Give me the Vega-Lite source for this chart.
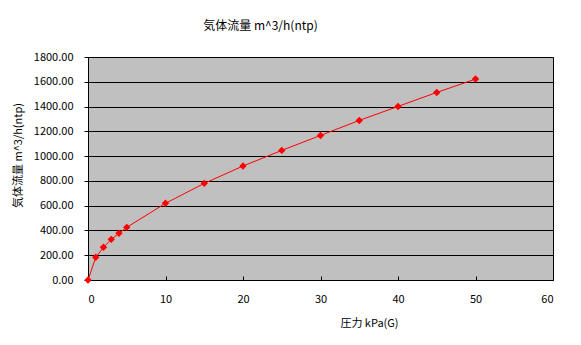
{
  "$schema": "https://vega.github.io/schema/vega-lite/v6.json",
  "width": 465,
  "height": 223,
  "autosize": {"type": "none"},
  "padding": {"left": 88, "top": 57, "right": 28, "bottom": 65},
  "background": "white",
  "title": {
    "text": "気体流量 m^3/h(ntp)",
    "font": "Noto Sans CJK JP",
    "fontSize": 12,
    "fontWeight": "normal",
    "color": "black",
    "anchor": "middle",
    "dx": -60,
    "offset": 18
  },
  "data": {
    "values": [
      {"p": 0, "q": 0},
      {"p": 1, "q": 183},
      {"p": 2, "q": 264},
      {"p": 3, "q": 328},
      {"p": 4, "q": 377},
      {"p": 5, "q": 425},
      {"p": 10, "q": 619},
      {"p": 15, "q": 780},
      {"p": 20, "q": 920},
      {"p": 25, "q": 1046},
      {"p": 30, "q": 1167},
      {"p": 35, "q": 1288},
      {"p": 40, "q": 1401},
      {"p": 45, "q": 1514},
      {"p": 50, "q": 1622}
    ]
  },
  "encoding": {
    "x": {
      "field": "p",
      "type": "quantitative",
      "scale": {"domain": [0, 60], "nice": false},
      "axis": {
        "title": "圧力 kPa(G)",
        "titleX": 281,
        "titleY": 37,
        "titleAlign": "center",
        "values": [0, 10, 20, 30, 40, 50, 60],
        "grid": false,
        "tickSize": -4,
        "labelPadding": 17,
        "domainColor": "black",
        "tickColor": "black"
      }
    },
    "y": {
      "field": "q",
      "type": "quantitative",
      "scale": {"domain": [0, 1800], "nice": false},
      "axis": {
        "title": "気体流量 m^3/h(ntp)",
        "titleX": -65,
        "titleY": 98,
        "titleAlign": "center",
        "titleAngle": -90,
        "values": [0, 200, 400, 600, 800, 1000, 1200, 1400, 1600, 1800],
        "format": ".2f",
        "grid": true,
        "gridColor": "black",
        "gridOpacity": 1,
        "tickSize": 4,
        "labelPadding": 11,
        "domainColor": "black",
        "tickColor": "black"
      }
    }
  },
  "layer": [
    {"mark": {"type": "line", "color": "#FF0000", "strokeWidth": 1}},
    {"mark": {"type": "point", "shape": "diamond", "filled": true, "color": "#FF0000", "opacity": 1, "size": 55}}
  ],
  "config": {
    "view": {"fill": "#C0C0C0", "stroke": "black", "strokeWidth": 1},
    "axis": {
      "labelFont": "Noto Sans CJK JP",
      "labelFontSize": 11,
      "labelColor": "black",
      "titleFont": "Noto Sans CJK JP",
      "titleFontSize": 11,
      "titleFontWeight": "normal",
      "titleColor": "black"
    }
  }
}
